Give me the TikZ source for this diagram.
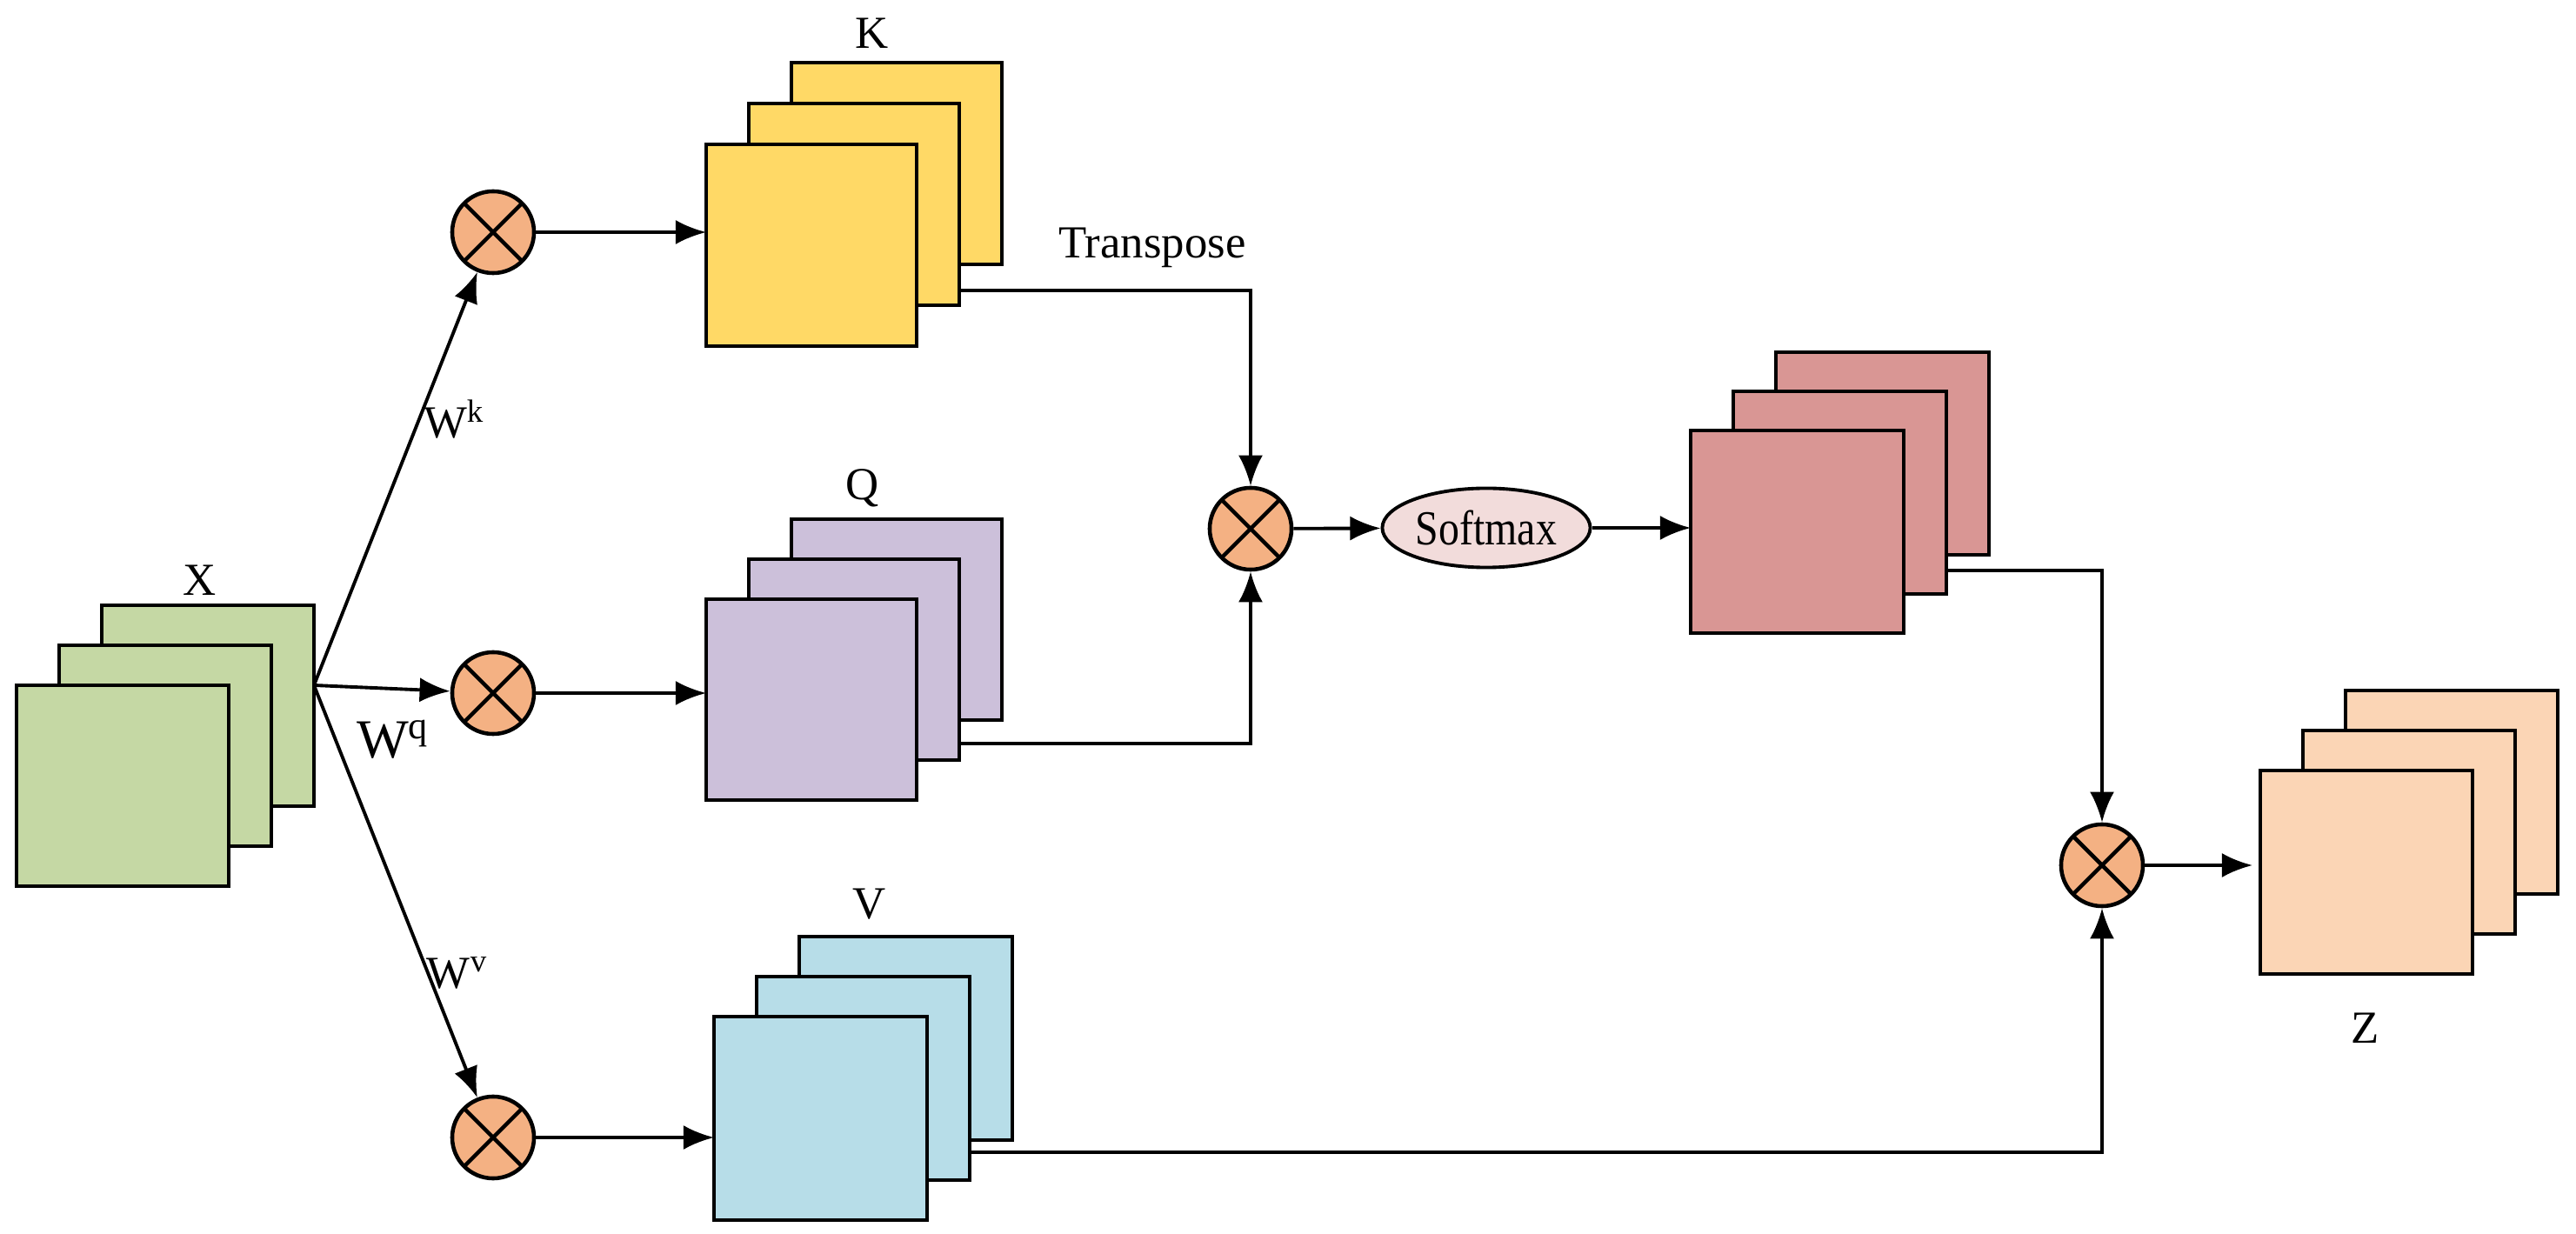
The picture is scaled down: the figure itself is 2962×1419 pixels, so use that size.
\documentclass[tikz,border=0pt]{standalone}
\usepackage{fontspec}
\setmainfont{Liberation Serif}
\usetikzlibrary{arrows.meta,calc,shapes.geometric}
\definecolor{cX}{HTML}{C5D8A4}
\definecolor{cK}{HTML}{FFD966}
\definecolor{cQ}{HTML}{CCC0DA}
\definecolor{cV}{HTML}{B7DDE8}
\definecolor{cR}{HTML}{D99694}
\definecolor{cZ}{HTML}{FBD5B5}
\definecolor{cM}{HTML}{F4B183}
\definecolor{cS}{HTML}{F2DCDB}
\tikzset{
  lay/.style={draw, line width=1.1pt, inner sep=0, outer sep=0, anchor=north west},
  mul/.style={circle, draw, line width=1.3pt, fill=cM, minimum size=0.94cm, inner sep=0,
    path picture={\draw[line width=1.3pt] ([shift={(45:0.47cm)}]path picture bounding box.center) -- ([shift={(225:0.47cm)}]path picture bounding box.center);
    \draw[line width=1.3pt] ([shift={(135:0.47cm)}]path picture bounding box.center) -- ([shift={(315:0.47cm)}]path picture bounding box.center);}},
  arr/.style={line width=1.1pt, -{Latex[length=10pt,width=8pt]}},
  ln/.style={line width=1.1pt},
  lbl/.style={font=\fontsize{15}{15}\selectfont, inner sep=0}
}
% \mystack{name}{x}{y}{w}{h}{colour}{dy}
\newcommand\mystack[7]{%
  \node[lay, fill=#6, minimum width=#4*0.01cm, minimum height=#5*0.01cm] (#1-1) at (#2+98,#3-2*#7) {};
  \node[lay, fill=#6, minimum width=#4*0.01cm, minimum height=#5*0.01cm] (#1-2) at (#2+49,#3-#7) {};
  \node[lay, fill=#6, minimum width=#4*0.01cm, minimum height=#5*0.01cm] (#1-3) at (#2,#3) {};}
\begin{document}
\begin{tikzpicture}[x=0.01cm,y=-0.01cm]
\useasboundingbox (0,0) rectangle (2962,1419);
\mystack{X}{19}{788}{244}{231}{cX}{46}
\mystack{K}{812}{166}{242}{232}{cK}{47}
\mystack{Q}{812}{689}{242}{231}{cQ}{46}
\mystack{V}{821}{1169}{245}{234}{cV}{46}
\mystack{R}{1944}{495}{245}{233}{cR}{45}
\mystack{Z}{2599}{886}{244}{234}{cZ}{46}

\node[mul] (ck) at (567,267) {};
\node[mul] (cq) at (567,797) {};
\node[mul] (cv) at (567,1308) {};
\node[mul] (cm) at (1438,608) {};
\node[mul] (cz) at (2417,995) {};
\node[ellipse, draw, line width=1.1pt, fill=cS, minimum width=2.39cm, minimum height=0.91cm, inner sep=0, font=\fontsize{16}{16}\selectfont] (sm) at (1709,607) {\scalebox{0.85}[1]{Softmax}};

\coordinate (br) at (361,788);
\draw[arr] (br) -- (ck);
\draw[arr] (br) -- (cq);
\draw[arr] (br) -- (cv);
\draw[arr] (ck.east) -- (ck.east -| K-3.west);
\draw[arr] (cq.east) -- (cq.east -| Q-3.west);
\draw[arr] (cv.east) -- (cv.east -| V-3.west);

\coordinate (tk) at (0,334);
\coordinate (tq) at (0,855);
\coordinate (tv) at (0,1325);
\coordinate (tr) at (0,656);
\draw[arr] (K-2.east |- tk) -| (cm);
\draw[arr] (Q-2.east |- tq) -| (cm);
\draw[arr] (cm) -- (sm);
\draw[arr] (sm.east) -- (sm.east -| R-3.west);
\draw[arr] (R-2.east |- tr) -| (cz);
\draw[arr] (V-2.east |- tv) -| (cz);
\draw[arr] (cz.east) -- ([xshift=-0.09cm]cz.east -| Z-3.west);

\node[lbl] (lx) at (230,667) {X};
\node[lbl] (lk) at (1003,38) {K};
\node[lbl] (lq) at (992,561) {Q};
\node[lbl] (lv) at (1000,1040) {V};
\node[lbl] (lz) at (2720,1182) {Z};
\node[lbl] (lt) at (1325,285) {Transpose};
\node[lbl] (wk) at (522,482) {W\textsuperscript{k}};
\node[lbl, font=\fontsize{18}{18}\selectfont] (wq) at (452,850) {W\textsuperscript{q}};
\node[lbl] (wv) at (526,1119) {W\textsuperscript{v}};
\end{tikzpicture}
\end{document}
